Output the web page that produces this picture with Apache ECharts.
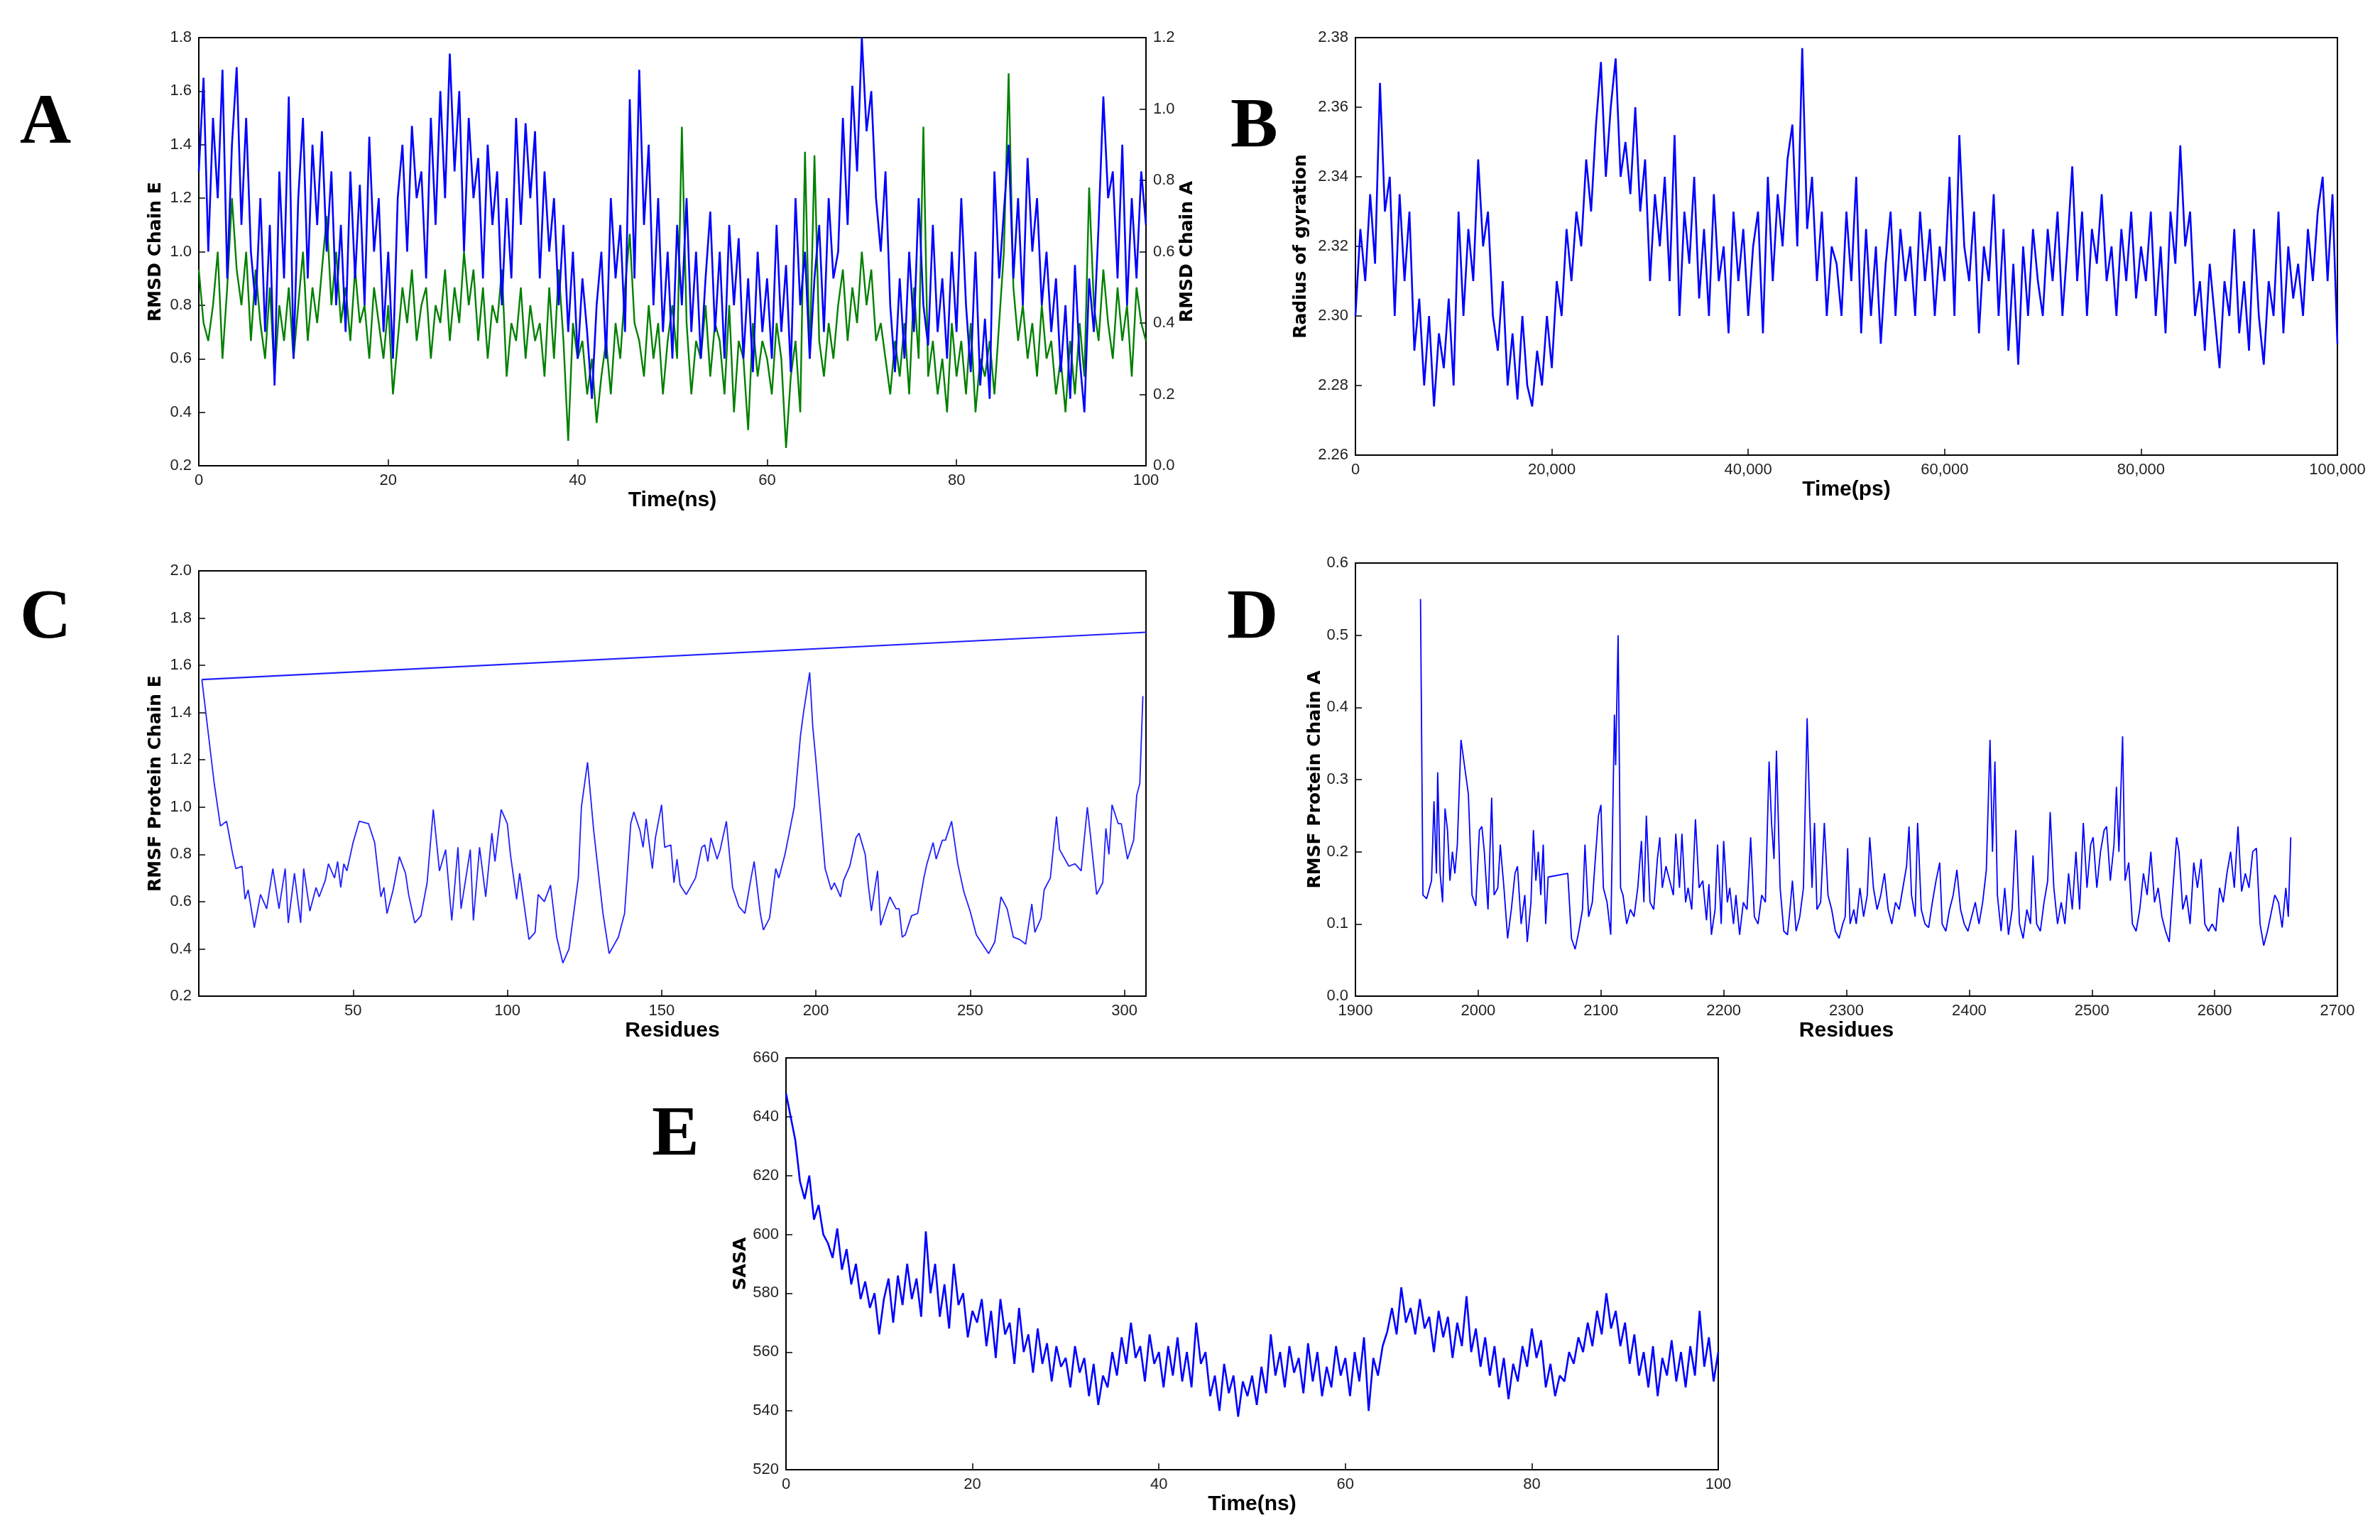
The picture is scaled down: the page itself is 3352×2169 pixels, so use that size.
<!DOCTYPE html>
<html><head><meta charset="utf-8">
<script src="https://cdn.jsdelivr.net/npm/echarts@6/dist/echarts.min.js"></script>
<style>html,body{margin:0;padding:0;background:#fff}#c{width:3352px;height:2169px}</style>
</head><body><div id="c"></div>
<script>
// Panel A: RMSD, t = 0..100 ns step 0.5
const rmsdStepNs = 0.5;
const rmsdChainE = [1.3,1.65,1.0,1.5,1.2,1.68,0.9,1.4,1.69,1.1,1.5,1.0,0.8,1.2,0.7,1.1,0.5,1.3,0.9,1.58,0.6,
1.2,1.5,0.9,1.4,1.1,1.45,1.0,1.3,0.8,1.1,0.7,1.3,0.9,1.25,0.8,1.43,1.0,1.2,0.7,1.0,
0.6,1.2,1.4,1.0,1.47,1.2,1.3,0.9,1.5,1.1,1.6,1.2,1.74,1.3,1.6,1.0,1.5,1.2,1.35,0.9,
1.4,1.1,1.3,0.8,1.2,0.9,1.5,1.1,1.48,1.2,1.45,0.9,1.3,1.0,1.2,0.8,1.1,0.7,1.0,0.6,
0.9,0.7,0.45,0.8,1.0,0.6,1.2,0.9,1.1,0.7,1.57,0.9,1.68,1.1,1.4,0.8,1.2,0.7,1.0,0.6,
1.1,0.8,1.2,0.7,1.0,0.6,0.9,1.15,0.7,1.0,0.6,1.1,0.8,1.05,0.6,0.9,0.55,1.0,0.7,0.9,
0.6,1.1,0.7,0.95,0.55,1.2,0.8,1.0,0.6,0.9,1.1,0.7,1.2,0.9,1.0,1.5,1.1,1.62,1.3,1.8,
1.45,1.6,1.2,1.0,1.3,0.8,0.55,0.9,0.6,1.0,0.7,1.2,0.8,0.65,1.1,0.7,0.9,0.6,1.0,0.7,
1.2,0.8,0.55,1.0,0.5,0.75,0.45,1.3,0.9,1.15,1.4,0.9,1.2,0.8,1.35,1.0,1.2,0.8,1.0,0.7,
0.9,0.55,0.8,0.45,0.95,0.6,0.4,0.9,0.7,1.1,1.58,1.2,1.3,0.9,1.4,0.8,1.2,0.9,1.3,1.1];
const rmsdChainA = [0.55,0.4,0.35,0.45,0.6,0.3,0.5,0.75,0.55,0.45,0.6,0.35,0.55,0.4,0.3,0.5,0.25,0.45,0.35,0.5,0.3,
0.45,0.6,0.35,0.5,0.4,0.55,0.7,0.45,0.6,0.4,0.5,0.35,0.55,0.4,0.45,0.3,0.5,0.4,0.3,0.45,
0.2,0.35,0.5,0.4,0.55,0.35,0.45,0.5,0.3,0.45,0.4,0.55,0.35,0.5,0.4,0.6,0.45,0.55,0.35,0.5,
0.3,0.45,0.4,0.55,0.25,0.4,0.35,0.5,0.3,0.45,0.35,0.4,0.25,0.5,0.3,0.55,0.35,0.07,0.4,0.3,
0.35,0.2,0.3,0.12,0.25,0.35,0.2,0.4,0.3,0.5,0.65,0.4,0.35,0.25,0.45,0.3,0.4,0.2,0.35,0.45,
0.3,0.95,0.4,0.2,0.35,0.3,0.45,0.25,0.4,0.35,0.2,0.45,0.15,0.35,0.3,0.1,0.4,0.25,0.35,0.3,
0.2,0.4,0.3,0.05,0.25,0.35,0.15,0.88,0.3,0.87,0.35,0.25,0.4,0.3,0.45,0.55,0.35,0.5,0.4,0.6,
0.45,0.55,0.35,0.4,0.3,0.2,0.35,0.25,0.4,0.2,0.5,0.3,0.95,0.25,0.35,0.2,0.3,0.15,0.4,0.25,
0.35,0.2,0.4,0.15,0.3,0.25,0.35,0.2,0.4,0.6,1.1,0.5,0.35,0.45,0.3,0.4,0.25,0.45,0.3,0.35,
0.2,0.3,0.15,0.35,0.2,0.4,0.25,0.78,0.45,0.35,0.55,0.4,0.3,0.5,0.35,0.45,0.25,0.5,0.4,0.35];
// Panel B: radius of gyration, t = 0..100000 ps step 500
const rgStepPs = 500;
const rgValues = [2.30,2.325,2.31,2.335,2.315,2.367,2.33,2.34,2.30,2.335,2.31,2.33,2.29,2.305,2.28,2.30,2.274,2.295,2.285,2.305,2.28,
2.33,2.30,2.325,2.31,2.345,2.32,2.33,2.30,2.29,2.31,2.28,2.295,2.276,2.30,2.28,2.274,2.29,2.28,2.30,2.285,
2.31,2.30,2.325,2.31,2.33,2.32,2.345,2.33,2.355,2.373,2.34,2.36,2.374,2.34,2.35,2.335,2.36,2.33,2.345,2.31,
2.335,2.32,2.34,2.31,2.352,2.30,2.33,2.315,2.34,2.305,2.325,2.30,2.335,2.31,2.32,2.295,2.33,2.31,2.325,2.30,
2.32,2.33,2.295,2.34,2.31,2.335,2.32,2.345,2.355,2.32,2.377,2.325,2.34,2.31,2.33,2.30,2.32,2.315,2.30,2.33,
2.31,2.34,2.295,2.325,2.30,2.32,2.292,2.315,2.33,2.30,2.325,2.31,2.32,2.30,2.33,2.31,2.325,2.30,2.32,2.31,
2.34,2.30,2.352,2.32,2.31,2.33,2.295,2.32,2.31,2.335,2.30,2.325,2.29,2.315,2.286,2.32,2.30,2.325,2.31,2.30,
2.325,2.31,2.33,2.30,2.32,2.343,2.31,2.33,2.30,2.325,2.315,2.335,2.31,2.32,2.30,2.325,2.31,2.33,2.305,2.32,
2.31,2.33,2.30,2.32,2.295,2.33,2.315,2.349,2.32,2.33,2.30,2.31,2.29,2.315,2.30,2.285,2.31,2.30,2.325,2.295,
2.31,2.29,2.325,2.30,2.286,2.31,2.30,2.33,2.295,2.32,2.305,2.315,2.30,2.325,2.31,2.33,2.34,2.31,2.335,2.292];
// Panel C: RMSF chain E
const rmsfEResidues = [1,5,7,9,11,12,14,15,16,18,20,22,24,26,28,29,31,33,34,36,38,39,41,42,44,45,46,47,48,50,52,55,57,59,60,61,63,65,67,68,70,72,74,76,78,80,82,84,85,88,89,91,93,95,96,98,100,101,103,104,107,109,110,112,114,116,118,120,123,124,126,128,131,133,136,138,140,141,143,144,145,147,148,150,151,153,154,155,156,158,161,163,164,165,166,168,169,171,173,175,177,179,180,182,183,185,187,188,190,193,195,196,198,199,200,203,205,206,208,209,211,213,214,216,217,218,220,221,223,224,226,227,228,229,231,233,235,236,238,239,241,242,244,246,248,250,252,255,256,258,260,262,264,266,268,270,271,273,274,276,278,279,282,284,286,288,289,291,293,294,295,296,298,299,301,303,304,305,306];
const rmsfEValues = [1.54,1.1,0.92,0.94,0.8,0.74,0.75,0.61,0.65,0.49,0.63,0.57,0.74,0.57,0.74,0.51,0.72,0.51,0.74,0.56,0.66,0.62,0.69,0.76,0.7,0.77,0.66,0.76,0.73,0.85,0.94,0.93,0.85,0.62,0.66,0.55,0.65,0.79,0.72,0.63,0.51,0.54,0.68,0.99,0.73,0.82,0.52,0.83,0.57,0.82,0.52,0.83,0.62,0.89,0.77,0.99,0.93,0.8,0.61,0.72,0.44,0.47,0.63,0.6,0.67,0.45,0.34,0.4,0.7,1.0,1.19,0.9,0.55,0.38,0.45,0.55,0.93,0.98,0.9,0.83,0.95,0.74,0.87,1.01,0.83,0.84,0.68,0.78,0.67,0.63,0.7,0.83,0.84,0.77,0.87,0.78,0.82,0.94,0.66,0.58,0.55,0.7,0.77,0.55,0.48,0.53,0.74,0.7,0.8,1.0,1.3,1.4,1.57,1.34,1.2,0.74,0.65,0.68,0.62,0.69,0.75,0.87,0.89,0.8,0.67,0.56,0.73,0.5,0.58,0.62,0.57,0.57,0.45,0.46,0.54,0.55,0.7,0.76,0.85,0.78,0.86,0.86,0.94,0.76,0.64,0.56,0.46,0.4,0.38,0.43,0.62,0.57,0.45,0.44,0.42,0.59,0.47,0.53,0.65,0.7,0.96,0.82,0.75,0.76,0.73,1.0,0.88,0.63,0.68,0.91,0.8,1.01,0.93,0.93,0.78,0.86,1.05,1.1,1.47];
const rmsfELineEnds = [[1,1.54],[307,1.74]];
// Panel D: RMSF chain A
const rmsfAResidues = [1953,1955,1958,1962,1964,1966,1967,1969,1971,1973,1975,1977,1979,1981,1983,1986,1992,1995,1998,2001,2003,2005,2008,2011,2013,2016,2018,2021,2024,2027,2030,2032,2035,2038,2040,2043,2045,2047,2049,2051,2053,2055,2057,2073,2076,2079,2082,2085,2087,2090,2093,2095,2098,2100,2102,2105,2108,2111,2112,2114,2116,2118,2121,2124,2127,2130,2133,2135,2137,2140,2143,2146,2148,2150,2153,2156,2159,2161,2164,2166,2169,2171,2174,2177,2180,2183,2186,2188,2190,2193,2195,2198,2200,2203,2205,2208,2210,2213,2216,2219,2222,2225,2228,2231,2234,2237,2239,2241,2243,2246,2249,2252,2254,2256,2259,2262,2265,2268,2270,2272,2274,2276,2279,2282,2285,2288,2291,2294,2297,2299,2301,2303,2306,2308,2311,2314,2317,2319,2322,2325,2328,2331,2334,2337,2340,2343,2346,2349,2351,2353,2356,2358,2361,2364,2367,2370,2373,2376,2378,2381,2384,2387,2390,2393,2396,2399,2402,2405,2408,2411,2414,2417,2419,2421,2423,2426,2429,2432,2435,2438,2441,2444,2447,2450,2452,2455,2458,2461,2464,2466,2469,2472,2475,2478,2481,2484,2487,2490,2493,2496,2499,2501,2504,2507,2510,2512,2515,2518,2520,2522,2525,2527,2530,2533,2536,2539,2542,2545,2548,2551,2554,2557,2560,2563,2566,2569,2571,2574,2577,2580,2583,2586,2589,2592,2595,2598,2601,2604,2607,2610,2613,2616,2619,2622,2625,2628,2631,2634,2637,2640,2643,2646,2649,2652,2655,2658,2660,2662];
const rmsfAValues = [0.55,0.14,0.135,0.16,0.27,0.17,0.31,0.17,0.13,0.26,0.23,0.16,0.2,0.17,0.21,0.355,0.28,0.14,0.125,0.23,0.235,0.2,0.12,0.275,0.14,0.15,0.21,0.15,0.08,0.12,0.17,0.18,0.1,0.14,0.075,0.13,0.23,0.16,0.2,0.14,0.21,0.1,0.165,0.17,0.08,0.065,0.09,0.12,0.21,0.11,0.13,0.18,0.25,0.265,0.15,0.13,0.085,0.39,0.32,0.5,0.15,0.14,0.1,0.12,0.11,0.15,0.215,0.13,0.25,0.13,0.12,0.19,0.22,0.15,0.18,0.16,0.14,0.225,0.15,0.225,0.13,0.15,0.12,0.245,0.15,0.16,0.105,0.155,0.085,0.12,0.21,0.1,0.215,0.13,0.15,0.1,0.14,0.085,0.13,0.12,0.22,0.11,0.1,0.14,0.13,0.325,0.24,0.19,0.34,0.15,0.09,0.085,0.12,0.16,0.09,0.11,0.15,0.385,0.26,0.15,0.24,0.12,0.13,0.24,0.14,0.12,0.09,0.08,0.1,0.11,0.205,0.1,0.12,0.1,0.15,0.11,0.14,0.22,0.15,0.12,0.14,0.17,0.12,0.1,0.13,0.12,0.15,0.18,0.235,0.14,0.11,0.24,0.12,0.1,0.095,0.13,0.16,0.185,0.1,0.09,0.12,0.14,0.175,0.12,0.1,0.09,0.11,0.13,0.1,0.13,0.175,0.355,0.2,0.325,0.14,0.09,0.15,0.085,0.12,0.23,0.1,0.08,0.12,0.1,0.195,0.1,0.09,0.13,0.16,0.255,0.15,0.1,0.13,0.1,0.17,0.12,0.2,0.12,0.24,0.15,0.21,0.22,0.15,0.2,0.23,0.235,0.16,0.21,0.29,0.2,0.36,0.16,0.185,0.1,0.09,0.12,0.17,0.14,0.2,0.13,0.15,0.11,0.09,0.075,0.15,0.22,0.2,0.12,0.14,0.1,0.185,0.15,0.19,0.1,0.09,0.1,0.09,0.15,0.13,0.17,0.2,0.15,0.235,0.145,0.17,0.15,0.2,0.205,0.1,0.07,0.09,0.115,0.14,0.13,0.095,0.15,0.11,0.22];
// Panel E: SASA, t = 0..100 ns step 0.5
const sasaStepNs = 0.5;
const sasaValues = [648,640,632,618,612,620,605,610,600,597,592,602,588,595,583,590,578,584,575,580,566,
578,585,570,586,576,590,578,585,572,601,580,590,572,583,568,590,576,580,565,574,
570,578,562,574,558,578,566,570,556,575,560,566,553,568,556,563,550,562,555,558,
548,562,553,558,545,556,542,552,548,560,552,565,556,570,558,562,550,566,556,560,
548,562,552,565,550,560,548,570,556,560,545,552,540,556,546,552,538,550,545,552,
542,555,546,566,552,560,548,562,553,558,546,563,550,560,545,555,548,562,552,558,
545,560,550,565,540,558,552,562,567,575,566,582,570,575,566,578,568,572,560,574,
565,572,558,570,562,579,560,568,555,565,552,562,548,558,544,556,550,562,555,568,
558,564,548,556,545,552,550,560,556,565,560,570,562,574,566,580,568,574,562,570,
556,566,552,560,548,562,545,558,552,564,550,560,548,562,552,574,555,565,550,560];

const pairs = (arr, step) => arr.map((v, i) => [i * step, v]);
const zip = (xs, ys) => xs.map((x, i) => [x, ys[i]]);

const TICKF = 'Liberation Sans Narrow, Liberation Sans, sans-serif';
const lbl = (fmt) => ({fontFamily: TICKF, fontSize: 22, color: '#222', formatter: fmt, margin: 10});
const tick = {inside: true, length: 9, lineStyle: {color: '#000', width: 1.5}};
const aLine = {show: true, onZero: false, lineStyle: {color: '#000', width: 2}};
const yName = {fontFamily: 'DejaVu Sans', fontWeight: 'bold', fontSize: 25, color: '#000'};
const xName = {fontFamily: TICKF, fontWeight: 'bold', fontSize: 30, color: '#000'};
function xa(grid, min, max, interval, name, gap, fmt, extra) {
  return Object.assign({type: 'value', gridIndex: grid, min, max, interval, name, nameLocation: 'middle', nameGap: gap,
    nameTextStyle: xName, axisLine: aLine, axisTick: tick, splitLine: {show: false}, axisLabel: lbl(fmt)}, extra || {});
}
function ya(grid, min, max, interval, name, gap, fmt, extra) {
  return Object.assign({type: 'value', gridIndex: grid, min, max, interval, name, nameLocation: 'middle', nameGap: gap,
    nameTextStyle: yName, axisLine: aLine, axisTick: tick, splitLine: {show: false}, axisLabel: lbl(fmt)}, extra || {});
}
const f1 = v => v.toFixed(1), f2 = v => v.toFixed(2), f0 = v => String(v);
const comma = v => v.toLocaleString('en-US');
const gridStyle = {show: true, borderColor: '#000', borderWidth: 2, backgroundColor: '#fff'};
const line = (x, y, data, color, w) => ({type: 'line', xAxisIndex: x, yAxisIndex: y, data, showSymbol: false, symbol: 'none',
  lineStyle: {color, width: w}, animation: false, z: 3});
const letter = (t, x, y) => ({type: 'text', left: x, top: y, style: {text: t, font: 'bold 100px "Liberation Serif", serif', fill: '#000'}});

const chart = echarts.init(document.getElementById('c'));
chart.setOption({
  animation: false,
  backgroundColor: '#fff',
  grid: [
    Object.assign({left: 280, width: 1334, top: 53, height: 603}, gridStyle),
    Object.assign({left: 1909, width: 1383, top: 53, height: 588}, gridStyle),
    Object.assign({left: 280, width: 1334, top: 804, height: 599}, gridStyle),
    Object.assign({left: 1909, width: 1383, top: 793, height: 610}, gridStyle),
    Object.assign({left: 1107, width: 1313, top: 1490, height: 580}, gridStyle)
  ],
  xAxis: [
    xa(0, 0, 100, 20, 'Time(ns)', 34, f0),
    xa(1, 0, 100000, 20000, 'Time(ps)', 34, comma),
    xa(2, 0, 307, 50, 'Residues', 34, f0, {axisLabel: Object.assign(lbl(f0), {showMinLabel: false, showMaxLabel: false})}),
    xa(3, 1900, 2700, 100, 'Residues', 34, f0),
    xa(4, 0, 100, 20, 'Time(ns)', 34, f0)
  ],
  yAxis: [
    ya(0, 0.2, 1.8, 0.2, 'RMSD Chain E', 48, f1),
    ya(0, 0, 1.2, 0.2, 'RMSD Chain A', 46, f1, {position: 'right'}),
    ya(1, 2.26, 2.38, 0.02, 'Radius of gyration', 64, f2),
    ya(2, 0.2, 2.0, 0.2, 'RMSF Protein Chain E', 48, f1),
    ya(3, 0, 0.6, 0.1, 'RMSF Protein Chain A', 40, f1),
    ya(4, 520, 660, 20, 'SASA', 50, f0)
  ],
  series: [
    line(0, 1, pairs(rmsdChainA, rmsdStepNs), '#008000', 2.4),
    line(0, 0, pairs(rmsdChainE, rmsdStepNs), '#0000ff', 2.6),
    line(1, 2, pairs(rgValues, rgStepPs), '#0000ff', 2.6),
    line(2, 3, zip(rmsfEResidues, rmsfEValues), '#2020ff', 1.8),
    line(2, 3, rmsfELineEnds, '#2020ff', 2.2),
    line(3, 4, zip(rmsfAResidues, rmsfAValues), '#0000ff', 1.8),
    line(4, 5, pairs(sasaValues, sasaStepNs), '#0000ff', 2.6)
  ],
  graphic: [letter('A', 28, 125), letter('B', 1733, 130), letter('C', 28, 822), letter('D', 1728, 822), letter('E', 918, 1550)]
});
</script></body></html>
